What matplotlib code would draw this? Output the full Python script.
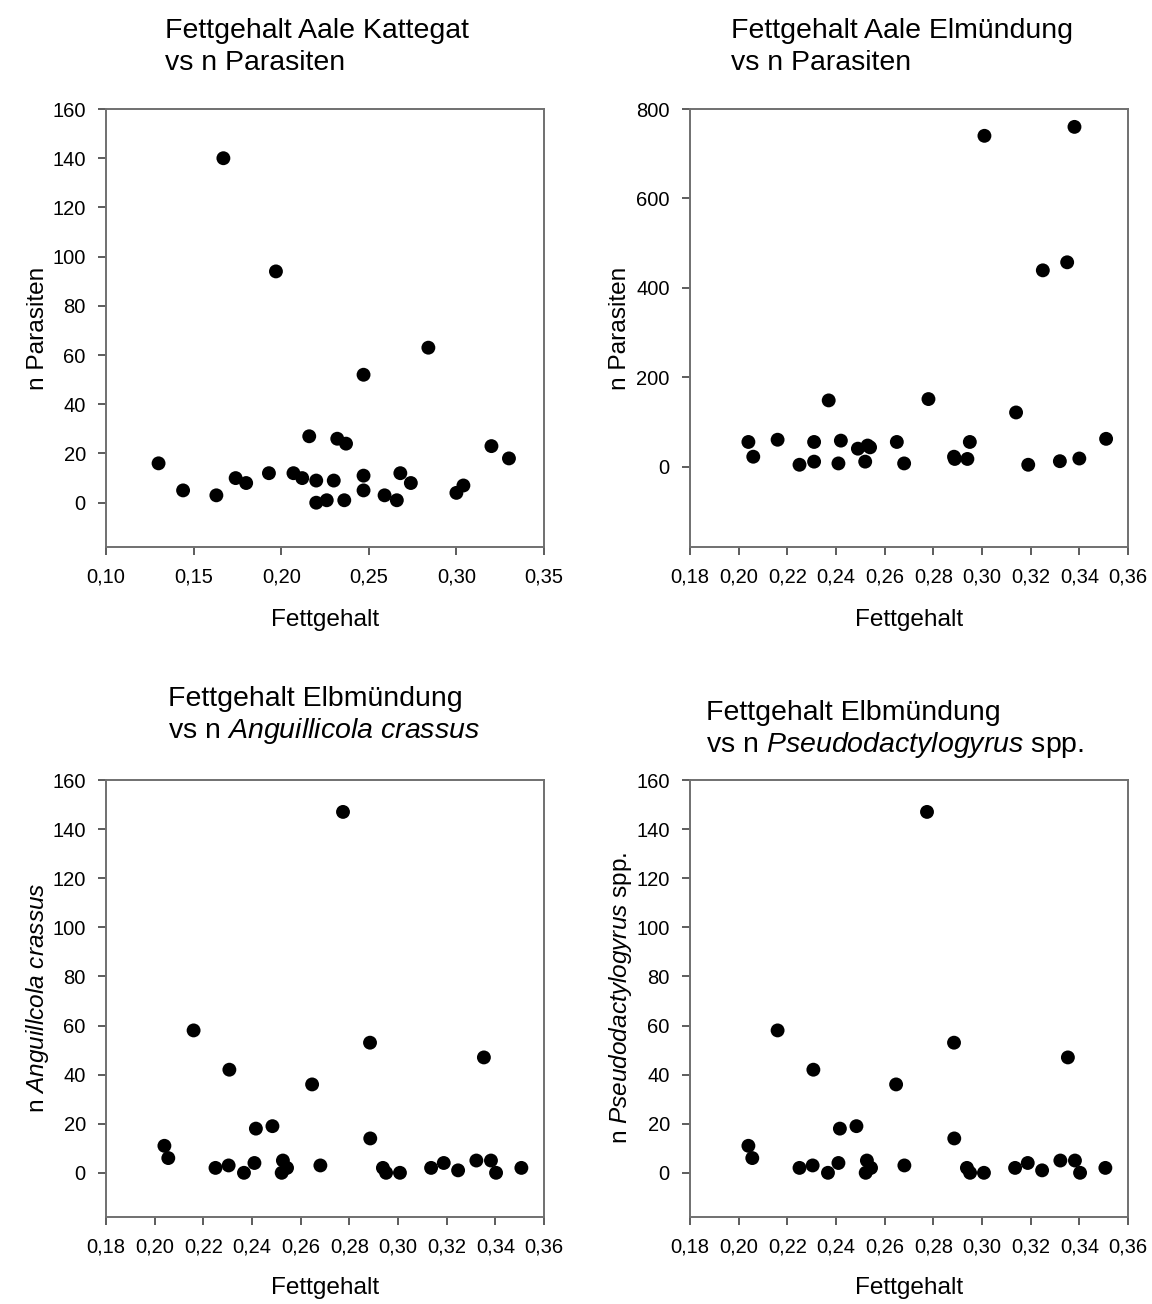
import matplotlib
matplotlib.use("Agg")
import matplotlib.pyplot as plt

plt.rcParams["font.family"] = ["Liberation Sans", "DejaVu Sans"]
plt.rcParams["mathtext.fontset"] = "custom"
plt.rcParams["mathtext.rm"] = "Liberation Sans"
plt.rcParams["mathtext.it"] = "Liberation Sans:italic"

# --- Kattegat: fat content vs total parasites ---
kattegat_fett = [0.130, 0.144, 0.163, 0.167, 0.174, 0.180, 0.193, 0.197, 0.207, 0.212,
                 0.216, 0.220, 0.220, 0.226, 0.230, 0.232, 0.237, 0.236, 0.247, 0.247,
                 0.247, 0.259, 0.268, 0.266, 0.274, 0.284, 0.300, 0.304, 0.320, 0.330]
kattegat_parasiten = [16, 5, 3, 140, 10, 8, 12, 94, 12, 10,
                      27, 9, 0, 1, 9, 26, 24, 1, 52, 11,
                      5, 3, 12, 1, 8, 63, 4, 7, 23, 18]

# --- Elbe estuary: fat content vs total parasites ---
elbe_fett_gesamt = [0.204, 0.206, 0.216, 0.225, 0.231, 0.231, 0.237, 0.242, 0.241, 0.249,
                    0.253, 0.254, 0.252, 0.265, 0.268, 0.278, 0.2885, 0.2888, 0.294, 0.295,
                    0.301, 0.314, 0.319, 0.325, 0.332, 0.335, 0.338, 0.340, 0.351]
elbe_parasiten = [55, 22, 60, 4, 55, 11, 148, 58, 7, 40,
                  47, 43, 11, 55, 7, 151, 22, 17, 17, 55,
                  740, 121, 4, 439, 12, 457, 760, 18, 62]

# --- Elbe estuary: fat content vs single parasite species ---
elbe_fett = [0.204, 0.2056, 0.216, 0.225, 0.2304, 0.2307, 0.2367, 0.241, 0.2416, 0.2484,
             0.2527, 0.2544, 0.2522, 0.2647, 0.2681, 0.2774, 0.2885, 0.2886, 0.2938, 0.2951,
             0.3008, 0.3136, 0.3188, 0.3247, 0.3322, 0.3353, 0.3382, 0.3403, 0.3507]
n_anguillicola = [11, 6, 58, 2, 3, 42, 0, 4, 18, 19,
                  5, 2, 0, 36, 3, 147, 53, 14, 2, 0,
                  0, 2, 4, 1, 5, 47, 5, 0, 2]
n_pseudodactylogyrus = [11, 6, 58, 2, 3, 42, 0, 4, 18, 19,
                        5, 2, 0, 36, 3, 147, 53, 14, 2, 0,
                        0, 2, 4, 1, 5, 47, 5, 0, 2]

xticks_kattegat = [0.10, 0.15, 0.20, 0.25, 0.30, 0.35]
xticks_elbe = [0.18, 0.20, 0.22, 0.24, 0.26, 0.28, 0.30, 0.32, 0.34, 0.36]
yticks_small = [0, 20, 40, 60, 80, 100, 120, 140, 160]
yticks_large = [0, 200, 400, 600, 800]

W, H = 1152, 1304
fig = plt.figure(figsize=(W / 100, H / 100), dpi=100)


def rect(left, top, right, bottom):
    return [left / W, 1 - bottom / H, (right - left) / W, (bottom - top) / H]


def comma(v, nd):
    return f"{v:.{nd}f}".replace(".", ",")


TICK_FS = 14.5
LABEL_FS = 17.6
TITLE_FS = 20.5
SPINE_C = "#707070"


def panel(box, x, y, xticks, xlim, yticks, ylim):
    ax = fig.add_axes(rect(*box))
    ax.scatter(x, y, s=100, color="black", edgecolors="none", zorder=3, clip_on=False)
    ax.set_xlim(*xlim)
    ax.set_ylim(*ylim)
    ax.set_xticks(xticks)
    ax.set_xticklabels([comma(v, 2) for v in xticks], fontsize=TICK_FS)
    ax.set_yticks(yticks)
    ax.set_yticklabels([str(v) for v in yticks], fontsize=TICK_FS)
    for s in ax.spines.values():
        s.set_color(SPINE_C)
        s.set_linewidth(1.4)
    ax.tick_params(direction="out", length=5.5, width=1.1, color="#303030", pad=9)
    return ax


def ftext(x, y, s, **kw):
    fig.text(x / W, 1 - y / H, s, **kw)


# top left
panel((106, 109, 544, 547), kattegat_fett, kattegat_parasiten,
      xticks_kattegat, (0.10, 0.35), yticks_small, (-18, 160))
# top right
panel((690, 109, 1128, 547), elbe_fett_gesamt, elbe_parasiten,
      xticks_elbe, (0.18, 0.36), yticks_large, (-180, 800))
# bottom left
panel((106, 780, 544, 1217), elbe_fett, n_anguillicola,
      xticks_elbe, (0.18, 0.36), yticks_small, (-18, 160))
# bottom right
panel((690, 780, 1128, 1217), elbe_fett, n_pseudodactylogyrus,
      xticks_elbe, (0.18, 0.36), yticks_small, (-18, 160))

# titles
tkw = dict(fontsize=TITLE_FS, ha="left", va="baseline")
ftext(165, 38, "Fettgehalt Aale Kattegat", **tkw)
ftext(165, 70, "vs n Parasiten", **tkw)
ftext(731, 38, "Fettgehalt Aale Elmündung", **tkw)
ftext(731, 70, "vs n Parasiten", **tkw)
ftext(168, 706, "Fettgehalt Elbmündung", **tkw)
ftext(168, 738, r"vs n $\mathit{Anguillicola\ crassus}$", **tkw)
ftext(706, 720, "Fettgehalt Elbmündung", **tkw)
ftext(706, 752, r"vs n $\mathit{Pseudodactylogyrus}$ spp.", **tkw)

# axis labels
lkw = dict(fontsize=LABEL_FS, ha="center", va="center")
ftext(325, 620, "Fettgehalt", **lkw)
ftext(909, 620, "Fettgehalt", **lkw)
ftext(325, 1288, "Fettgehalt", **lkw)
ftext(909, 1288, "Fettgehalt", **lkw)
ftext(38, 328, "n Parasiten", rotation=90, **lkw)
ftext(620, 328, "n Parasiten", rotation=90, **lkw)
ftext(38, 998, r"n $\mathit{Anguillcola\ crassus}$", rotation=90, **lkw)
ftext(620, 998, r"n $\mathit{Pseudodactylogyrus}$ spp.", rotation=90, **lkw)

fig.savefig("out.png", dpi=100)
